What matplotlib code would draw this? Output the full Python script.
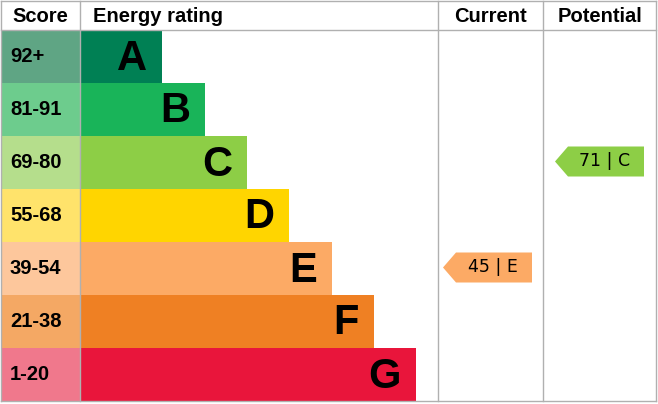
import matplotlib
matplotlib.use("Agg")
import matplotlib.pyplot as plt
from matplotlib.patches import Polygon, Rectangle

bands = ["A", "B", "C", "D", "E", "F", "G"]
scores = ["92+", "81-91", "69-80", "55-68", "39-54", "21-38", "1-20"]
bar_ends = [162, 205, 247, 289, 332, 374, 416]
colors = ["#008054", "#19b459", "#8dce46", "#ffd500", "#fcaa65", "#ef8023", "#e9153b"]
light = ["#5fa584", "#6dcc8d", "#b5de8c", "#ffe36b", "#fdc79c", "#f4a864", "#f0788c"]
current_value, current_band = 45, "E"
potential_value, potential_band = 71, "C"

W, H = 658, 404
fig = plt.figure(figsize=(W/100, H/100), dpi=100)
ax = fig.add_axes([0, 0, 1, 1])
ax.set_xlim(0, W); ax.set_ylim(H, 0); ax.axis("off")

top, rowh = 30, 53
hf = dict(family="Liberation Sans", weight="bold", fontsize=14.5, va="center")
ax.text(40, 16, "Score", ha="center", **hf)
ax.text(93, 16, "Energy rating", ha="left", **hf)
ax.text(490, 16, "Current", ha="center", **hf)
ax.text(600, 16, "Potential", ha="center", **hf)

for i, (b, s, e, c, l) in enumerate(zip(bands, scores, bar_ends, colors, light)):
    y0 = top + i*rowh
    ax.add_patch(Rectangle((1, y0), 79, rowh, color=l, lw=0))
    ax.add_patch(Rectangle((80, y0), e-80, rowh, color=c, lw=0))
    ax.text(10, y0+rowh/2, s, fontsize=14.5, weight="bold", family="Liberation Sans", va="center")
    ax.text(e-15, y0+rowh/2+2, b, fontsize=30, weight="bold", family="Liberation Sans",
            va="center", ha="right", color="black")

lc = "#b0b0b0"
for x in [1, 80, 438, 543, 656]:
    ax.plot([x, x], [1, H-3], color=lc, lw=1)
ax.plot([1, 656], [1, 1], color=lc, lw=1)
ax.plot([1, 656], [30, 30], color=lc, lw=1)
ax.plot([1, 656], [H-3, H-3], color=lc, lw=1)

def arrow(x0, x1, band, val):
    i = bands.index(band)
    yc = top + i*rowh + rowh/2 - 1
    h = 15
    ax.add_patch(Polygon([(x0, yc), (x0+13, yc-h), (x1, yc-h), (x1, yc+h), (x0+13, yc+h)],
                         closed=True, color=colors[i], lw=0))
    ax.text((x0+x1)/2+5, yc, f"{val} | {band}", ha="center", va="center", fontsize=12.5,
            family="DejaVu Sans")

arrow(443, 532, current_band, current_value)
arrow(555, 644, potential_band, potential_value)
fig.savefig("out.png", dpi=100)
